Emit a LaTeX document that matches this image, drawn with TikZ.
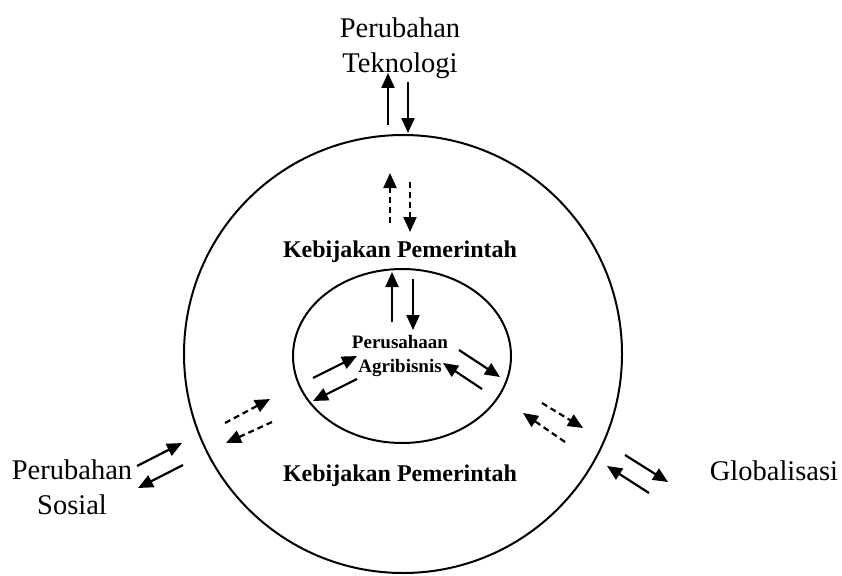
\documentclass[tikz,border=0pt]{standalone}
\usepackage{fontspec}
\setmainfont{Liberation Serif}
\usepackage{tikz}
\usetikzlibrary{arrows.meta, shapes.geometric}

\begin{document}
\begin{tikzpicture}[
  x=1pt, y=-1pt,
  every node/.style={align=center},
  outerlbl/.style={font=\fontsize{28.5}{34.5}\selectfont},
  govlbl/.style={font=\fontsize{24}{28}\selectfont\bfseries},
  firmlbl/.style={font=\fontsize{19}{23.5}\selectfont\bfseries},
  ring/.style={draw, line width=2pt, inner sep=0pt},
  flow/.style={-{Triangle[length=15pt,width=13pt]}, line width=2.2pt},
  weak/.style={flow, dash pattern=on 6pt off 4pt},
]
\useasboundingbox (0,0) rectangle (842,575);
\node[ring, circle, minimum size=438pt] (outer) at (403,354) {};
\node[ring, ellipse, minimum width=218pt, minimum height=174pt] (inner) at (402,356) {};
\node[outerlbl] (tekno)  at (400,48)  {Perubahan\\Teknologi};
\node[outerlbl] (sosial) at (72,487)  {Perubahan\\Sosial};
\node[outerlbl] (global) at (774,471) {Globalisasi};
\node[govlbl]   (gov1)   at (400,252) {Kebijakan Pemerintah};
\node[govlbl]   (gov2)   at (400,476) {Kebijakan Pemerintah};
\node[firmlbl]  (firm)   at (400,356) {Perusahaan\\Agribisnis};
% outside <-> government
\draw[flow] (388,125) -- (388,73);
\draw[flow] (408,82)  -- (408,133);
\draw[flow] (137,466) -- (182,443);
\draw[flow] (183,465) -- (138,488);
\draw[flow] (625,455) -- (668,482);
\draw[flow] (649,493) -- (607,466);
% indirect effects
\draw[weak] (390,223) -- (390,173);
\draw[weak] (410,182) -- (410,232);
\draw[weak] (225,423) -- (270,399);
\draw[weak] (272,422) -- (226,443);
\draw[weak] (542,403) -- (583,428);
\draw[weak] (565,442) -- (523,413);
% government <-> firm
\draw[flow] (392,322) -- (392,272);
\draw[flow] (413,279) -- (413,330);
\draw[flow] (313,378) -- (357,356);
\draw[flow] (357,379) -- (313,401);
\draw[flow] (459,350) -- (500,377);
\draw[flow] (482,389) -- (443,363);
\end{tikzpicture}
\end{document}
